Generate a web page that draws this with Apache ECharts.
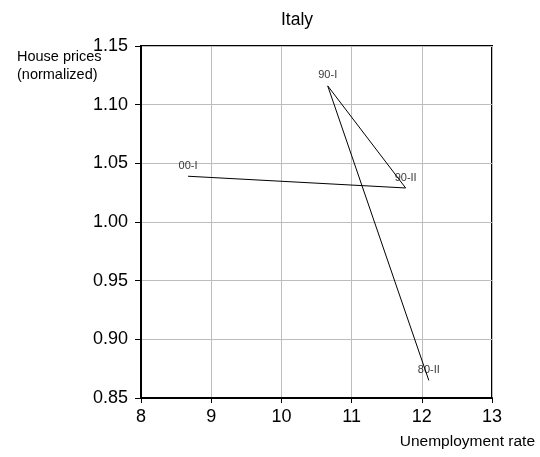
<!DOCTYPE html>
<html>
<head>
<meta charset="utf-8">
<script src="https://cdn.jsdelivr.net/npm/echarts@6/dist/echarts.min.js"></script>
<style>
  html, body { margin: 0; padding: 0; background: #fff; }
  #chart { width: 540px; height: 457px; }
</style>
</head>
<body>
<div id="chart"></div>
<script>
// data
const periods = ['80-II', '90-I', '90-II', '00-I'];
const unemployment = [12.1, 10.66, 11.77, 8.67];
const housePrices = [0.865, 1.116, 1.029, 1.039];
const xTicks = [8, 9, 10, 11, 12, 13];
const yTicks = [0.85, 0.90, 0.95, 1.00, 1.05, 1.10, 1.15];

const pts = periods.map((p, i) => ({ name: p, value: [unemployment[i], housePrices[i]] }));

const chart = echarts.init(document.getElementById('chart'));
const font = 'Liberation Sans, Arial, sans-serif';

chart.setOption({
  animation: false,
  backgroundColor: '#fff',
  grid: {
    left: 141, right: 48, top: 46, bottom: 59,
    show: true, borderColor: '#000', borderWidth: 2, backgroundColor: '#fff'
  },
  xAxis: {
    type: 'value',
    min: xTicks[0], max: xTicks[xTicks.length - 1], interval: 1,
    axisLine: { show: true, onZero: false, lineStyle: { color: '#000', width: 2 } },
    axisTick: { show: true, inside: false, length: 5, lineStyle: { color: '#000' } },
    axisLabel: { fontFamily: font, fontSize: 18, color: '#000', margin: 10 },
    splitLine: { show: true, lineStyle: { color: '#bdbdbd', width: 1 } }
  },
  yAxis: {
    type: 'value',
    min: yTicks[0], max: yTicks[yTicks.length - 1], interval: 0.05,
    axisLine: { show: true, onZero: false, lineStyle: { color: '#000', width: 2 } },
    axisTick: { show: true, inside: false, length: 6, lineStyle: { color: '#000' } },
    axisLabel: { fontFamily: font, fontSize: 18, color: '#000', margin: 13,
      formatter: v => v.toFixed(2) },
    splitLine: { show: true, lineStyle: { color: '#bdbdbd', width: 1 } }
  },
  graphic: [
    { type: 'text', x: 297, y: 20,
      style: { text: 'Italy', fontFamily: font, fontSize: 17.5, fill: '#000',
        textAlign: 'center', textVerticalAlign: 'middle' } },
    { type: 'text', left: 17, top: 48,
      style: { text: 'House prices\n(normalized)', fontFamily: font, fontSize: 14.5, lineHeight: 18, fill: '#000' } },
    { type: 'text', right: 5, top: 434,
      style: { text: 'Unemployment rate', fontFamily: font, fontSize: 15.5, fill: '#000' } }
  ],
  series: [
    {
      type: 'line',
      data: pts,
      symbol: 'none',
      lineStyle: { color: '#000', width: 1 },
      z: 3
    },
    {
      type: 'scatter',
      data: pts,
      symbolSize: 0,
      itemStyle: { color: '#000' },
      label: {
        show: true, position: 'top', distance: 5,
        formatter: p => p.name,
        fontFamily: font, fontSize: 11, color: '#000'
      },
      z: 4
    }
  ]
});
</script>
</body>
</html>
